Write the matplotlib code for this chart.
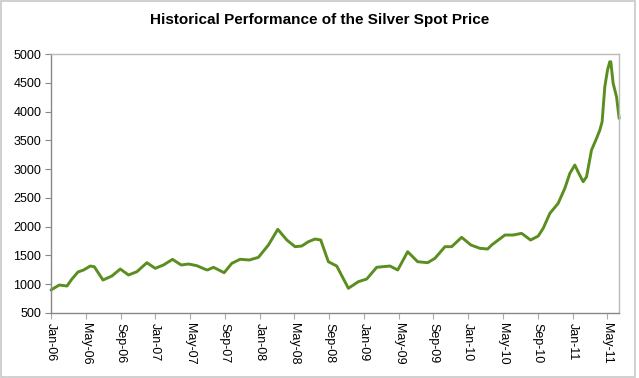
import numpy as np
import matplotlib
matplotlib.use("Agg")
import matplotlib.pyplot as plt
from matplotlib.patches import Rectangle

# silver spot price; x = months since Jan-06
months = [0.0, 0.95, 1.84, 2.41, 3.10, 3.75, 4.52, 4.98, 5.98, 7.01, 7.97, 8.92,
          9.89, 11.03, 11.99, 12.94, 13.98, 14.98, 15.82, 16.78, 17.74, 18.0,
          18.69, 19.92, 20.80, 21.76, 22.83, 23.86, 25.01, 26.09, 27.13, 28.08,
          28.85, 29.61, 30.38, 31.03, 31.91, 32.87, 34.21, 35.36, 36.32, 37.47,
          39.0, 39.89, 41.03, 42.18, 43.33, 44.17, 45.32, 46.09, 47.24, 48.31,
          49.34, 50.23, 50.69, 52.22, 53.17, 54.14, 55.17, 56.05, 56.62, 57.39,
          58.34, 59.11, 59.69, 60.26, 60.72, 61.22, 61.61, 62.18, 62.76, 63.14,
          63.40, 63.71, 64.02, 64.28, 64.40, 64.67, 65.06, 65.36]
price = [900, 986, 969, 1090, 1212, 1247, 1316, 1304, 1073, 1143, 1264, 1160,
         1218, 1374, 1276, 1334, 1432, 1334, 1351, 1322, 1259, 1247,
         1294, 1200, 1363, 1433, 1421, 1467, 1681, 1954, 1768, 1652,
         1664, 1739, 1785, 1768, 1391, 1316, 929, 1044, 1090, 1294,
         1316, 1247, 1565, 1391, 1374, 1450, 1652, 1652, 1815, 1681,
         1624, 1612, 1681, 1855, 1855, 1884, 1768, 1837, 1971, 2232,
         2405, 2666, 2927, 3071, 2927, 2781, 2868, 3331, 3535, 3679,
         3823, 4431, 4721, 4866, 4866, 4490, 4257, 3882]

tick_months = list(range(0, 65, 4))
tick_labels = ["Jan-06", "May-06", "Sep-06", "Jan-07", "May-07", "Sep-07",
               "Jan-08", "May-08", "Sep-08", "Jan-09", "May-09", "Sep-09",
               "Jan-10", "May-10", "Sep-10", "Jan-11", "May-11"]

plt.rcParams["font.family"] = ["Liberation Sans", "DejaVu Sans"]

fig = plt.figure(figsize=(6.39, 3.78), dpi=100)
fig.patches.append(Rectangle((0.001, 0.003), 0.992, 0.995, transform=fig.transFigure,
                             fill=False, ec="#c8c8c8", lw=1.2))
ax = fig.add_axes([0.0798, 0.172, 0.889, 0.685])

ax.plot(months, price, color="#5a8e1f", lw=2.1, solid_joinstyle="round",
        solid_capstyle="round", clip_on=False)

ax.set_xlim(0, 65.35)
ax.set_ylim(500, 5000)
ax.set_yticks(np.arange(500, 5001, 500))
ax.set_xticks(tick_months)
ax.set_xticklabels(tick_labels, rotation=270, fontsize=9)
ax.tick_params(axis="y", labelsize=9, length=4, color="#888888", pad=3)
ax.tick_params(axis="x", length=4, color="#aaaaaa", pad=3)

for s in ("left", "bottom"):
    ax.spines[s].set_color("#888888")
for s in ("top", "right"):
    ax.spines[s].set_color("#bbbbbb")
for s in ax.spines.values():
    s.set_linewidth(1.0)

fig.text(0.5, 0.947, "Historical Performance of the Silver Spot Price",
         ha="center", va="center", fontsize=11, fontweight="bold")

fig.savefig("out.png", dpi=100)
